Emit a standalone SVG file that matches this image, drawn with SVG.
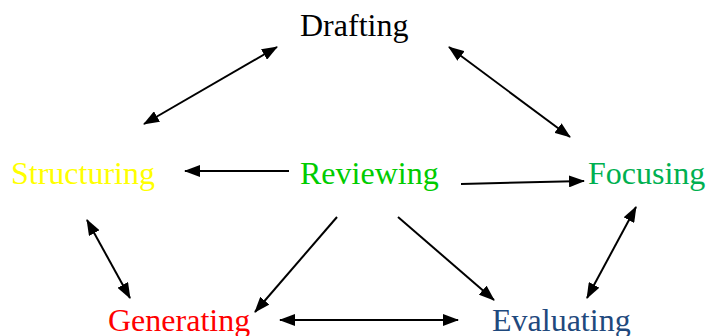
<svg xmlns="http://www.w3.org/2000/svg" width="706" height="336" viewBox="0 0 706 336">
<style>
text{font-family:"Liberation Serif","Times New Roman",serif;font-size:32px}
.c line{stroke:#000;stroke-width:2;fill:none}
</style>
<defs>
<marker id="ah" viewBox="0 0 16 12" refX="15" refY="6" markerWidth="16" markerHeight="12" markerUnits="userSpaceOnUse" orient="auto-start-reverse">
<path d="M0,0 L16,6 L0,12 z" fill="#000"/>
</marker>
</defs>
<rect width="706" height="336" fill="#fff"/>
<g id="drafting"><text x="300" y="36">Drafting</text></g>
<g id="structuring"><text x="11" y="184" fill="#FFFF00">Structuring</text></g>
<g id="reviewing"><text x="300" y="184" fill="#00CC00">Reviewing</text></g>
<g id="focusing"><text x="588" y="184" fill="#00B050">Focusing</text></g>
<g id="generating"><text x="108" y="331" fill="#FF0000">Generating</text></g>
<g id="evaluating"><text x="492" y="331" fill="#1F497D">Evaluating</text></g>
<g class="c" id="connectors">
<line x1="144" y1="124" x2="277" y2="47" marker-start="url(#ah)" marker-end="url(#ah)"/>
<line x1="449" y1="47" x2="570" y2="137" marker-start="url(#ah)" marker-end="url(#ah)"/>
<line x1="289" y1="171" x2="185" y2="171" marker-end="url(#ah)"/>
<line x1="461" y1="184" x2="584" y2="181" marker-end="url(#ah)"/>
<line x1="337" y1="217" x2="255" y2="312" marker-end="url(#ah)"/>
<line x1="398" y1="217" x2="494" y2="300" marker-end="url(#ah)"/>
<line x1="87" y1="220" x2="130" y2="298" marker-start="url(#ah)" marker-end="url(#ah)"/>
<line x1="636" y1="207" x2="587" y2="298" marker-start="url(#ah)" marker-end="url(#ah)"/>
<line x1="280" y1="320" x2="458" y2="320" marker-start="url(#ah)" marker-end="url(#ah)"/>
</g>
</svg>
